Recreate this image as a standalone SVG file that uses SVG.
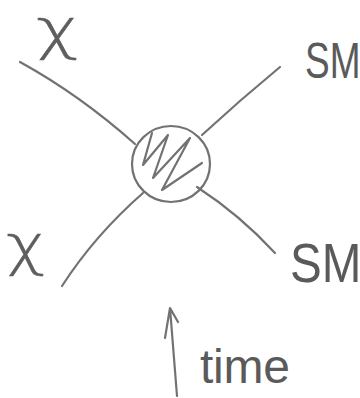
<svg xmlns="http://www.w3.org/2000/svg" width="360" height="398" viewBox="0 0 360 398">
<style>
.ln{fill:none;stroke:#727272;stroke-width:2.2;stroke-linecap:round;stroke-linejoin:round}
.lb{fill:#5e5e5e;font-family:"DejaVu Sans",sans-serif;font-weight:200}
.sm{fill:#5a5a5a;font-family:"Liberation Sans",sans-serif}
</style>
<rect width="360" height="398" fill="#fff"/>
<g id="connectors">
<path class="ln" d="M20,62 Q80,95 135,144"/>
<path class="ln" d="M202,135 Q240,100 280,67"/>
<path class="ln" d="M143,193 Q95,235 62,286"/>
<path class="ln" d="M197,187 Q240,215 275,253"/>
</g>
<g id="vertex">
<ellipse class="ln" cx="171" cy="164" rx="39" ry="38"/>
<path class="ln" d="M152,133 L143,165 L168,135 L153,178 L190,138 L162,190 L202,163"/>
</g>
<g id="chi-in-top"><text class="lb" transform="translate(36,48) scale(1.3,1)" font-size="56" stroke="#5e5e5e" stroke-width="0.6">χ</text></g>
<g id="chi-in-bottom"><text class="lb" transform="translate(6,264) scale(1.2,1)" font-size="56" stroke="#5e5e5e" stroke-width="0.6">χ</text></g>
<g id="sm-out-top"><text class="sm" transform="translate(305,78) scale(0.74,1)" font-size="50">SM</text></g>
<g id="sm-out-bottom"><text class="sm" transform="translate(290,282) scale(0.85,1)" font-size="56">SM</text></g>
<g id="time-axis">
<path class="ln" d="M177,396 L170,308 M165,338 L170,308 L178,322"/>
<text class="sm" x="200" y="383" font-size="48" textLength="90">time</text>
</g>
</svg>
